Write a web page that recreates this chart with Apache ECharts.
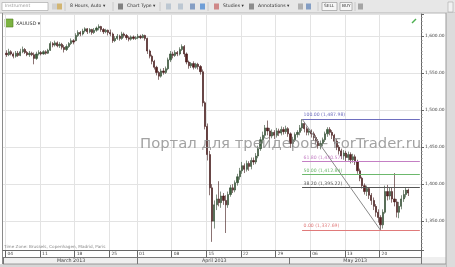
<!DOCTYPE html>
<html><head><meta charset="utf-8">
<script src="https://cdn.jsdelivr.net/npm/echarts@6/dist/echarts.min.js"></script>
<style>html,body{margin:0;padding:0;background:#fff;overflow:hidden}#c{width:455px;height:267px}</style>
</head><body><div id="c"></div><script>
const tradingDays = ['03-04','03-05','03-06','03-07','03-08','03-11','03-12','03-13','03-14','03-15','03-18','03-19','03-20','03-21','03-22','03-25','03-26','03-27','03-28','04-01','04-02','04-03','04-04','04-05','04-08','04-09','04-10','04-11','04-12','04-15','04-16','04-17','04-18','04-19','04-22','04-23','04-24','04-25','04-26','04-29','04-30','05-01','05-02','05-03','05-06','05-07','05-08','05-09','05-10','05-13','05-14','05-15','05-16','05-17','05-20','05-21','05-22','05-23','05-24'];
const sessions = ['00:00','08:00','16:00'];
const padBefore = ['03-01 16:00'];
const padAfter = ['05-27 00:00','05-27 08:00','05-27 16:00'];
const weekStarts = ['03-04','03-11','03-18','03-25','04-01','04-08','04-15','04-22','04-29','05-06','05-13','05-20'];
const monthNames = {'03':'March 2013','04':'April 2013','05':'May 2013'};
// [open, close, low, high] per 8-hour bar
const ohlc = [
[1577,1575,1572,1581],[1575,1579,1573,1583],[1579,1576,1574,1581],[1576,1573,1570,1578],[1573,1577,1571,1580],
[1577,1574,1572,1580],[1574,1579,1573,1583],[1579,1582,1577,1586],[1582,1578,1576,1584],[1578,1575,1573,1580],
[1575,1577,1572,1580],[1577,1575,1573,1579],[1575,1570,1562,1578],[1570,1576,1568,1579],[1576,1578,1574,1581],
[1578,1576,1574,1580],[1576,1579,1575,1581],[1579,1577,1575,1581],[1577,1581,1576,1583],[1581,1590,1580,1593],
[1590,1588,1585,1592],[1588,1591,1586,1594],[1591,1587,1585,1593],[1587,1589,1584,1592],[1589,1585,1582,1591],
[1585,1582,1578,1588],[1582,1586,1580,1589],[1586,1590,1584,1592],[1590,1594,1588,1597],[1594,1592,1589,1596],
[1594,1601,1593,1604],[1601,1605,1599,1608],[1605,1603,1600,1607],[1603,1607,1601,1610],[1607,1610,1605,1612],
[1610,1606,1603,1611],[1606,1609,1604,1611],[1609,1605,1602,1610],[1605,1608,1603,1611],[1608,1611,1606,1613],
[1611,1613,1608,1616],[1613,1609,1606,1614],[1609,1606,1603,1611],[1606,1608,1604,1610],[1608,1605,1601,1609],
[1605,1603,1600,1609],[1603,1594,1591,1605],[1594,1597,1592,1600],[1597,1600,1595,1603],[1600,1597,1594,1602],
[1597,1603,1595,1606],[1603,1601,1598,1605],[1601,1598,1595,1603],[1598,1596,1593,1600],[1596,1599,1594,1601],
[1599,1597,1595,1601],[1597,1598,1595,1600],
[1598,1600,1596,1603],[1600,1598,1596,1602],[1598,1601,1597,1603],[1601,1597,1594,1602],[1597,1580,1576,1598],
[1580,1573,1570,1582],[1573,1566,1562,1575],[1566,1558,1555,1568],[1558,1551,1547,1560],[1551,1546,1541,1553],
[1546,1553,1544,1556],[1553,1551,1548,1557],[1551,1556,1549,1559],[1556,1568,1554,1571],[1568,1576,1565,1580],
[1576,1574,1570,1579],[1574,1578,1572,1581],[1578,1576,1573,1580],[1576,1582,1574,1585],[1582,1586,1580,1589],
[1586,1576,1572,1588],[1576,1565,1562,1578],[1565,1560,1556,1567],[1560,1563,1557,1565],[1563,1558,1555,1566],
[1558,1562,1556,1564],[1562,1559,1555,1564],[1559,1552,1548,1561],[1552,1510,1505,1555],[1510,1478,1474,1512],
[1478,1440,1432,1482],[1440,1395,1385,1445],[1395,1350,1322,1400],[1350,1372,1340,1378],[1372,1380,1365,1386],
[1380,1375,1370,1404],[1375,1384,1368,1390],[1384,1378,1372,1388],[1378,1372,1334,1385],[1372,1386,1368,1390],
[1386,1395,1383,1399],[1395,1392,1388,1400],[1392,1402,1389,1405],[1402,1410,1398,1414],[1410,1418,1406,1422],
[1418,1425,1414,1430],[1425,1420,1415,1428],[1420,1428,1417,1432],[1428,1424,1418,1431],[1424,1432,1420,1436],
[1432,1430,1426,1436],[1430,1438,1427,1442],[1438,1448,1435,1452],[1448,1460,1445,1464],[1460,1466,1455,1471],
[1466,1476,1462,1480],[1476,1472,1466,1486],[1472,1465,1460,1476],[1465,1470,1462,1474],[1470,1466,1461,1473],
[1466,1472,1463,1476],[1472,1469,1465,1475],[1469,1474,1466,1478],[1474,1471,1467,1477],[1471,1475,1468,1479],
[1475,1468,1464,1477],[1468,1455,1449,1470],[1455,1460,1450,1464],[1460,1467,1457,1470],[1467,1470,1463,1473],
[1470,1476,1466,1480],[1476,1482,1472,1488],[1482,1475,1470,1484],[1475,1470,1466,1478],[1470,1472,1466,1476],
[1472,1468,1463,1474],[1468,1463,1459,1471],[1463,1458,1454,1466],[1458,1452,1448,1461],[1452,1455,1447,1459],
[1455,1460,1451,1463],[1460,1468,1457,1471],[1468,1474,1464,1477],[1474,1470,1466,1477],[1470,1466,1461,1473],
[1466,1458,1454,1468],[1458,1450,1446,1461],[1450,1445,1440,1453],[1445,1438,1434,1448],[1438,1442,1433,1446],
[1442,1436,1430,1445],[1436,1440,1432,1444],[1440,1433,1428,1443],[1433,1437,1429,1441],[1437,1430,1426,1440],
[1430,1418,1414,1433],[1418,1408,1404,1421],[1408,1398,1394,1410],[1398,1390,1386,1401],[1390,1394,1384,1398],
[1394,1385,1380,1396],[1385,1378,1372,1388],[1378,1370,1365,1382],[1370,1362,1356,1373],[1362,1355,1348,1366],
[1355,1345,1338,1358],[1345,1362,1340,1366],[1362,1390,1360,1398],[1390,1384,1378,1399],[1384,1390,1379,1395],
[1390,1380,1375,1395],[1380,1376,1370,1415],[1376,1362,1355,1380],[1362,1370,1354,1376],[1370,1380,1366,1385],
[1380,1386,1376,1392],[1386,1392,1382,1396],[1392,1388,1384,1394]
];
const fibLevels = [100, 61.8, 50, 38.2, 0];
const fibPrices = [1487.98, 1430.57, 1412.84, 1395.22, 1337.69];
const fibColors = ['#6f6fbf', '#c47fc4', '#6cb86c', '#555555', '#e07a7a'];
const fibStartBar = 128;   // bar where the swing high sits
const fibEndBar = 162;     // bar where the swing low sits

const categories = padBefore.slice();
tradingDays.forEach(d => sessions.forEach(s => categories.push(d + ' ' + s)));
padAfter.forEach(c => categories.push(c));
const off = padBefore.length;

const isWeekStart = (i, v) => { const [d, t] = v.split(' '); return t === '00:00' && weekStarts.includes(d); };
const monthOf = v => v.slice(0, 2);
const monthFirst = {}, monthLast = {};
categories.forEach((c, i) => { const m = monthOf(c); if (!(m in monthFirst)) monthFirst[m] = i; monthLast[m] = i; });
const monthMid = {}; Object.keys(monthFirst).forEach(m => monthMid[m] = Math.ceil((monthFirst[m] + monthLast[m]) / 2));
const isMonthStart = (i, v) => monthFirst[monthOf(v)] === i;
const isMonthMid = (i, v) => monthMid[monthOf(v)] === i;

const fmt = v => { const s = v.toFixed(2); const [a, b] = s.split('.'); return a.replace(/\B(?=(\d{3})+(?!\d))/g, ',') + '.' + b; };

const series = ohlc.map((r, i) => [i + off, r[0], r[1], r[2], r[3]]);
const lastIdx = categories.length - 1;
const markData = fibLevels.map((lv, k) => [
  { coord: [fibStartBar + off, fibPrices[k]], lineStyle: { color: fibColors[k], width: 1, type: 'solid' },
    label: { show: true, position: 'insideStartTop', formatter: lv.toFixed(2) + ' (' + fmt(fibPrices[k]) + ')', color: fibColors[k], fontSize: 4.6, distance: 1.5, fontFamily: 'DejaVu Sans' } },
  { coord: [lastIdx, fibPrices[k]] }
]);
markData.push([
  { coord: [fibStartBar + off, fibPrices[0]], lineStyle: { color: '#8a8a8a', width: 1, type: 'solid' }, label: { show: false } },
  { coord: [fibEndBar + off, fibPrices[4]] }
]);

const FF = 'DejaVu Sans';
const chart = echarts.init(document.getElementById('c'), null, { renderer: 'canvas' });
const tb = [];
// toolbar
tb.push({ type: 'rect', shape: { x: 0, y: 0, width: 455, height: 13 }, style: { fill: '#e7e7e7' }, z: 0 });
tb.push({ type: 'line', shape: { x1: 0, y1: 13, x2: 455, y2: 13 }, style: { stroke: '#b5b5b5', lineWidth: 1 } });
tb.push({ type: 'rect', shape: { x: 2, y: 2.5, width: 46, height: 8 }, style: { fill: '#fff', stroke: '#aaa', lineWidth: 0.7 } });
const tbText = [['Instrument', 5, '#999'], ['8 Hours, Auto \u25BE', 70, '#333'], ['Chart Type \u25BE', 127, '#333'], ['Studies \u25BE', 223, '#333'], ['Annotations \u25BE', 258, '#333']];
tbText.forEach(t => tb.push({ type: 'text', left: t[1], top: 3.6, style: { text: t[0], fontSize: 4.6, fill: t[2], fontFamily: FF } }));
[['SELL', 322, 15], ['BUY', 340, 12]].forEach(b => {
  tb.push({ type: 'rect', shape: { x: b[1], y: 2.5, width: b[2], height: 8 }, style: { fill: '#f6f6f6', stroke: '#999', lineWidth: 0.7 } });
  tb.push({ type: 'text', left: b[1] + 2, top: 4, style: { text: b[0], fontSize: 4.3, fill: '#333', fontFamily: FF } });
});
[[52, '#c8c8c8'], [57, '#c9a040'], [118, '#555'], [166, '#a9b9c9'], [178, '#a9b9c9'], [190, '#5a7fb5'], [200, '#3a7fd0'], [214, '#c46060'], [249, '#666'], [298, '#999'], [306, '#5a7fb5'], [358, '#888']].forEach(ic =>
  tb.push({ type: 'rect', shape: { x: ic[0], y: 3.5, width: 5, height: 6 }, style: { fill: ic[1], opacity: 0.7 } }));
[65, 113, 160, 208, 318, 355].forEach(x => tb.push({ type: 'line', shape: { x1: x, y1: 2, x2: x, y2: 11 }, style: { stroke: '#c4c4c4', lineWidth: 0.8 } }));
// right strip
tb.push({ type: 'rect', shape: { x: 446, y: 13, width: 9, height: 254 }, style: { fill: '#dcdcdc' } });
tb.push({ type: 'line', shape: { x1: 446, y1: 13, x2: 446, y2: 267 }, style: { stroke: '#9a9a9a', lineWidth: 1 } });
tb.push({ type: 'rect', shape: { x: 448, y: 2, width: 5, height: 10 }, style: { fill: '#f2f2f2', stroke: '#aaa', lineWidth: 0.6 } });
// bottom rows
tb.push({ type: 'rect', shape: { x: 3, y: 257, width: 443, height: 7 }, style: { fill: '#efefef' }, z: -1 });
tb.push({ type: 'rect', shape: { x: 0, y: 264, width: 446, height: 3 }, style: { fill: '#d6d6d6' } });
tb.push({ type: 'line', shape: { x1: 3, y1: 264, x2: 446, y2: 264 }, style: { stroke: '#888', lineWidth: 0.8 } });
tb.push({ type: 'line', shape: { x1: 2.5, y1: 13, x2: 2.5, y2: 264 }, style: { stroke: '#8a8a8a', lineWidth: 1 } });
// instrument label
tb.push({ type: 'rect', shape: { x: 5, y: 19, width: 8, height: 8 }, style: { fill: '#7cb342', stroke: '#4e7d20', lineWidth: 0.6 } });
tb.push({ type: 'text', left: 16, top: 21, style: { text: 'XAUUSD \u25BE', fontSize: 4.8, fill: '#333', fontFamily: FF } });
tb.push({ type: 'line', shape: { x1: 412, y1: 23, x2: 416, y2: 19 }, style: { stroke: '#4caf50', lineWidth: 1.5 } });
// watermark
tb.push({ type: 'text', left: 140, top: 136.5, z: 50, style: { text: 'Портал для трейдеров - ForTrader.ru', fontSize: 14.8, fill: 'rgba(140,140,140,0.8)', fontFamily: FF } });
tb.push({ type: 'text', left: 4, top: 244.5, z: 50, style: { text: 'Time Zone: Brussels, Copenhagen, Madrid, Paris', fontSize: 4.2, fill: '#8a8a8a', fontFamily: FF } });

chart.setOption({
  animation: false,
  backgroundColor: '#ffffff',
  grid: { left: 3, right: 34, top: 14, bottom: 17, containLabel: false },
  xAxis: [
    { type: 'category', data: categories, boundaryGap: true,
      axisLine: { show: true, lineStyle: { color: '#666', width: 1 } },
      axisTick: { show: true, interval: isWeekStart, length: 7, lineStyle: { color: '#666', width: 1 } },
      axisLabel: { interval: isWeekStart, formatter: v => v.slice(3, 5), align: 'left', margin: 2, fontSize: 4.4, color: '#444', fontFamily: FF, padding: [0, 0, 0, 1] },
      splitLine: { show: true, interval: isWeekStart, lineStyle: { color: '#e3e3e3', width: 1 } } },
    { type: 'category', data: categories, boundaryGap: true, position: 'bottom', offset: 7,
      axisLine: { show: true, lineStyle: { color: '#777', width: 1 } },
      axisTick: { show: true, interval: isMonthStart, length: 7, lineStyle: { color: '#777', width: 1 } },
      axisLabel: { interval: isMonthMid, formatter: v => monthNames[monthOf(v)], margin: 1.5, fontSize: 4.8, color: '#444', fontFamily: FF },
      splitLine: { show: false } }
  ],
  yAxis: { type: 'value', position: 'right', min: 1311, max: 1630, splitNumber: 6, scale: true,
    axisLine: { show: true, lineStyle: { color: '#666', width: 1 } },
    axisTick: { show: true, length: 3, lineStyle: { color: '#666' } },
    minorTick: { show: true, splitNumber: 10, length: 1.5, lineStyle: { color: '#888' } },
    axisLabel: { formatter: fmt, fontSize: 4.4, color: '#444', margin: 4, showMinLabel: false, showMaxLabel: false, fontFamily: FF },
    splitLine: { show: true, lineStyle: { color: '#e3e3e3', width: 1 } } },
  series: [{
    type: 'candlestick', xAxisIndex: 0, data: series, encode: { x: 0, y: [1, 2, 3, 4] },
    barWidth: 1.7,
    itemStyle: { color: '#3d5f3d', color0: '#5a2020', borderColor: '#2c442c', borderColor0: '#3c1414', borderWidth: 0.6 },
    markLine: { symbol: 'none', silent: true, animation: false, data: markData }
  }],
  graphic: tb
});
</script></body></html>
